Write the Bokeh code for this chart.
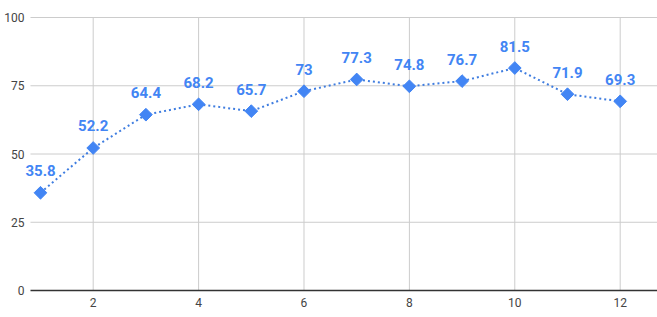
import numpy as np
from bokeh.plotting import figure
from bokeh.models import Range1d, ColumnDataSource, Label
from bokeh.core.properties import value
from bokeh.embed import file_html
from bokeh.resources import INLINE

months = [1, 2, 3, 4, 5, 6, 7, 8, 9, 10, 11, 12]
values = [35.8, 52.2, 64.4, 68.2, 65.7, 73, 77.3, 74.8, 76.7, 81.5, 71.9, 69.3]
labels = ["35.8", "52.2", "64.4", "68.2", "65.7", "73", "77.3", "74.8", "76.7", "81.5", "71.9", "69.3"]
x_ticks = [2, 4, 6, 8, 10, 12]
x_tick_labels = ["2", "4", "6", "8", "10", "12"]
y_ticks = [0, 25, 50, 75, 100]
y_tick_labels = ["0", "25", "50", "75", "100"]

# plot-area bounds (data units); the frame itself covers the whole canvas so no text is clipped
X_LO, X_HI = 0.81, 12.71
Y_LO, Y_HI = 0, 100

src = ColumnDataSource(dict(x=months, y=values, t=labels))

p = figure(width=657, height=317, output_backend="svg", toolbar_location=None,
           x_range=Range1d(0.241, 12.708), y_range=Range1d(-9.89, 106.23),
           x_axis_location=None, y_axis_location=None,
           min_border_left=0, min_border_right=0, min_border_top=0, min_border_bottom=0)
p.outline_line_color = None
p.background_fill_color = "white"
p.border_fill_color = "white"
p.xgrid.visible = False
p.ygrid.visible = False

# grid lines
p.segment(x0=x_ticks, x1=x_ticks, y0=[Y_LO] * len(x_ticks), y1=[Y_HI] * len(x_ticks),
          line_color="#cccccc", line_width=1)
p.segment(x0=[X_LO] * 4, x1=[X_HI] * 4, y0=y_ticks[1:], y1=y_ticks[1:],
          line_color="#cccccc", line_width=1)
p.segment(x0=[X_LO], x1=[X_HI], y0=[y_ticks[0]], y1=[y_ticks[0]],
          line_color="#333333", line_width=1.5)

# tick labels
p.text(x=[X_LO] * len(y_ticks), y=y_ticks, text=y_tick_labels, x_offset=-6,
       text_align="right", text_baseline="middle",
       text_font=value("Roboto"), text_font_size="12px", text_color="#444444")
p.text(x=x_ticks, y=[Y_LO] * len(x_ticks), text=x_tick_labels, y_offset=12,
       text_align="center", text_baseline="middle",
       text_font=value("Roboto"), text_font_size="12px", text_color="#444444")

p.line("x", "y", source=src, line_color="#3f7de0", line_width=2, line_dash="2 3")
p.scatter("x", "y", source=src, marker="square", angle=np.pi / 4, size=9,
          fill_color="#4285f4", line_color="#4285f4")

for xv, yv, tv in zip(months, values, labels):
    p.add_layout(Label(x=xv, y=yv, text=tv, y_offset=22,
                       text_align="center", text_baseline="middle",
                       text_font="Roboto", text_font_size="15px", text_font_style="bold",
                       text_color="#4285f4"))

open("out.html", "w").write(file_html(p, INLINE))
